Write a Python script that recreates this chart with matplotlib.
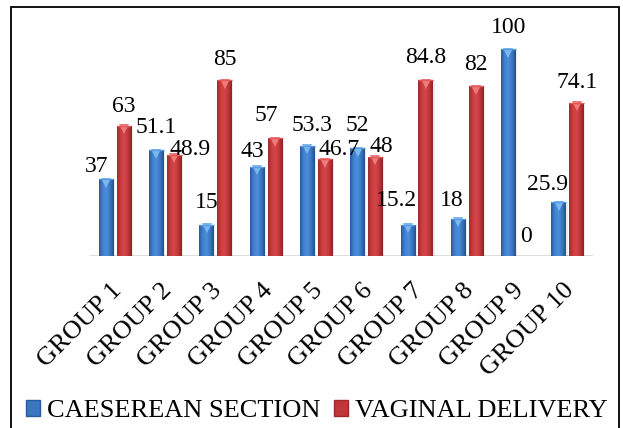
import numpy as np
import matplotlib
matplotlib.use("Agg")
import matplotlib.pyplot as plt
from matplotlib.patches import Rectangle, Patch
from matplotlib.colors import LinearSegmentedColormap
import matplotlib.transforms as mtransforms

plt.rcParams['font.family'] = 'serif'
plt.rcParams['font.serif'] = ['Liberation Serif', 'Times New Roman', 'DejaVu Serif']
FAM = ['Liberation Serif', 'DejaVu Serif']

categories = ["GROUP 1", "GROUP 2", "GROUP 3", "GROUP 4", "GROUP 5",
              "GROUP 6", "GROUP 7", "GROUP 8", "GROUP 9", "GROUP 10"]
caesarean = [37, 51.1, 15, 43, 53.3, 52, 15.2, 18, 100, 25.9]
vaginal = [63, 48.9, 85, 57, 46.7, 48, 84.8, 82, 0, 74.1]
series_names = ["CAESEREAN SECTION", "VAGINAL DELIVERY"]

# label nudges in pixels (dx, dy up)
blue_dx = [-9, 0, 0, -5, 5, 0, -11, -6, 0, -11]
blue_dy = [-8, 2, 2, -5, 0, 2, 4, -2, 1, -3]
red_dx = [0, 16, 0, -9, 14, 6, 0, 0, 0, 0]
red_dy = [-1, -15, 0, 2, -11, -10, 2, 1, -1, 0]

W, H = 623, 428
fig = plt.figure(figsize=(W / 100, H / 100), dpi=100)
fig.patch.set_facecolor("white")

left = 89.85 / W
right = 592.85 / W
bottom = (H - 256) / H
top = (H - 28.3) / H
ax = fig.add_axes([left, bottom, right - left, top - bottom])
ax.set_xlim(-0.5, 9.5)
ax.set_ylim(0, 110)
for s in ax.spines.values():
    s.set_visible(False)
ax.set_yticks([])
ax.tick_params(axis='x', length=0, pad=0)

x = np.arange(len(categories))
bw = 0.29
off = 0.178

blue_cmap = LinearSegmentedColormap.from_list(
    "b", ["#2a5a9e", "#4082d0", "#4c8ed9", "#3a76c2", "#23508f"])
red_cmap = LinearSegmentedColormap.from_list(
    "r", ["#9e2a2c", "#cb3e40", "#d44648", "#c0373a", "#8c2224"])
grad = np.linspace(0, 1, 64).reshape(1, -1)

ax.axhline(0, color="#d9d9d9", lw=2.0, zorder=1)

def draw_bars(xs, vals, cmap, tri_color, edge):
    for xi, v in zip(xs, vals):
        if v <= 0:
            continue
        sh = Rectangle((xi - bw / 2 + 0.03, 0), bw, v, facecolor="#000000",
                       alpha=0.08, edgecolor="none", zorder=2)
        ax.add_patch(sh)
        rect = Rectangle((xi - bw / 2, 0), bw, v, facecolor="none",
                         edgecolor="none", zorder=3)
        ax.add_patch(rect)
        im = ax.imshow(grad, cmap=cmap, aspect="auto",
                       extent=(xi - bw / 2, xi + bw / 2, 0, v), zorder=3)
        im.set_clip_path(rect)
        tr = mtransforms.offset_copy(ax.transData, fig=fig, x=0, y=-3.5, units='dots')
        ax.plot([xi], [v], marker='v', markersize=7, color=tri_color,
                markeredgewidth=0, transform=tr, zorder=4)
        ax.plot([xi - bw / 2, xi + bw / 2], [v, v], color=edge, lw=1.0,
                zorder=4, solid_capstyle='butt')

draw_bars(x - off, caesarean, blue_cmap, "#7cb8ee", "#5a9ae0")
draw_bars(x + off, vaginal, red_cmap, "#ee7a7a", "#e05a5a")

gap = 15
for xs, vals, dxs, dys in [(x - off, caesarean, blue_dx, blue_dy),
                           (x + off, vaginal, red_dx, red_dy)]:
    for xi, v, dx, dy in zip(xs, vals, dxs, dys):
        lab = f"{v:g}"
        ax.annotate(lab, (xi, v), xytext=(dx * 0.72, (gap + dy) * 0.72),
                    textcoords='offset points', ha='center', va='baseline',
                    fontsize=17, color='black', zorder=5, family=FAM)

ax.set_xticks(x)
ax.set_xticklabels([])
for xi, c in zip(x, categories):
    ax.annotate(c, (xi, 0), xytext=(3 * 0.72, -31 * 0.72),
                textcoords='offset points', ha='right', va='center',
                rotation=45, rotation_mode='anchor', fontsize=19,
                annotation_clip=False, family=FAM)

handles = [Patch(facecolor="#3a76c2", edgecolor="#2a5a9e", label=series_names[0]),
           Patch(facecolor="#c0373a", edgecolor="#9e2a2c", label=series_names[1])]
fig.legend(handles=handles, loc='center', bbox_to_anchor=(316.5 / W, 17 / H),
           ncol=2, frameon=False, prop={'family': FAM, 'size': 19},
           handlelength=0.55, handleheight=0.55, handletextpad=0.25,
           columnspacing=0.5, borderaxespad=0, borderpad=0)

border = Rectangle((11 / W, -0.05), (619 - 11) / W, 1 - 7 / H + 0.05,
                   transform=fig.transFigure, facecolor='none',
                   edgecolor='black', lw=1.3, zorder=10)
fig.patches.append(border)

fig.savefig("out.png", dpi=100)
